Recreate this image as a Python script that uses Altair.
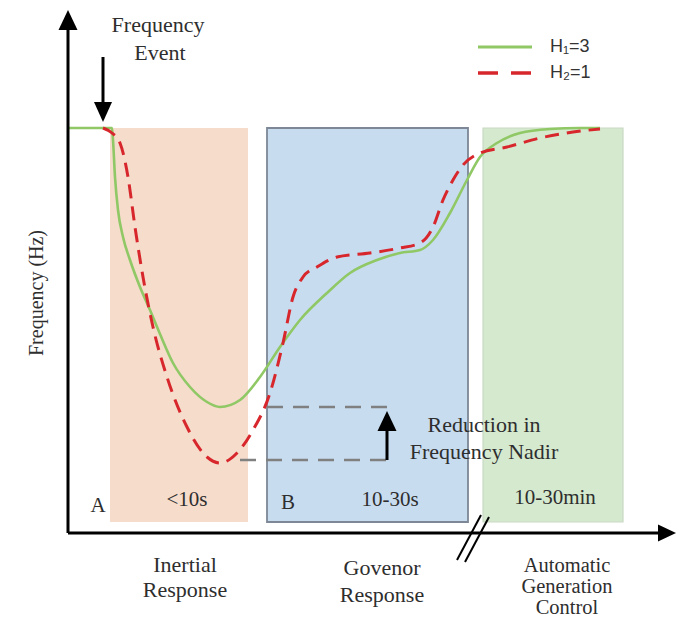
import altair as alt
import pandas as pd

# ---- data (time units t, frequency units f) ----
box_start = [42, 199, 415]
box_end = [180, 400, 555]
box_fill = ["#f5dccb", "#c8dcf0", "#d5e9cf"]
box_stroke = ["#f5dccb", "#7d8796", "#c9d9c4"]
box_sw = [0, 1.8, 1.2]
box_top = 405
box_bottom = 11

green_t = [0, 44, 45, 47, 50, 55, 62, 72, 82, 92, 105, 122, 139, 152, 172, 192, 212, 232, 259, 282, 309, 332, 352, 365, 382, 399, 412, 429, 452, 482, 512, 532]
green_f = [405, 405, 393, 356, 323, 296, 273, 246, 223, 199, 170, 146, 131, 126, 133, 156, 186, 213, 240, 260, 273, 280, 283, 293, 320, 353, 376, 390, 400, 404, 405, 405]

red_t = [35, 44, 52, 60, 67, 75, 85, 99, 119, 139, 152, 169, 185, 202, 215, 225, 235, 249, 269, 302, 332, 352, 365, 375, 385, 395, 412, 439, 472, 505, 532]
red_f = [405, 400, 390, 356, 306, 256, 206, 156, 106, 76, 70, 80, 103, 140, 190, 236, 256, 266, 276, 280, 285, 290, 306, 333, 353, 368, 380, 386, 395, 401, 404]

nadir_green = 126
nadir_red = 73

region_labels = ["A", "<10s", "B", "10-30s", "10-30min"]
region_t = [30, 119, 220, 322, 487]
region_f = [27, 33, 30, 33, 35]

bottom_labels = ["Inertial", "Response", "Govenor", "Response"]
bottom_t = [117, 117, 314, 314]
bottom_f = [-32, -57, -35, -62]

agc_labels = ["Automatic", "Generation", "Control"]
agc_t = [499, 499, 499]
agc_f = [-33, -54, -75]

legend_labels = ["H\u2081=3", "H\u2082=1"]

xs = alt.Scale(domain=[-60, 609], nice=False, zero=False)
ys = alt.Scale(domain=[-88, 525], nice=False, zero=False)


def X(field="t"):
    return alt.X(f"{field}:Q", scale=xs, axis=None)


def Y(field="f"):
    return alt.Y(f"{field}:Q", scale=ys, axis=None)


SERIF = "Liberation Serif"
TXT = "#2e2e2e"

# boxes
boxes = pd.DataFrame({"t0": box_start, "t1": box_end, "f0": [box_bottom] * 3, "f1": [box_top] * 3,
                      "fill": box_fill, "stroke": box_stroke, "sw": box_sw})
box_layer = alt.Chart(boxes).mark_rect().encode(
    x=X("t0"), x2="t1", y=Y("f0"), y2="f1",
    fill=alt.Fill("fill:N", scale=None),
    stroke=alt.Stroke("stroke:N", scale=None),
    strokeWidth=alt.StrokeWidth("sw:Q", scale=None),
)

# nadir dashed guide lines
guides = pd.DataFrame({"t0": [199, 172], "t1": [322, 325], "f": [nadir_green, nadir_red]})
guide_layer = alt.Chart(guides).mark_rule(color="#808080", strokeWidth=2.5, strokeDash=[16, 10]).encode(
    x=X("t0"), x2="t1", y=Y("f"))

# curves
green_df = pd.DataFrame({"t": green_t, "f": green_f})
red_df = pd.DataFrame({"t": red_t, "f": red_f})
green_layer = alt.Chart(green_df).mark_line(color="#8fc865", strokeWidth=2.6, interpolate="monotone").encode(
    x=X(), y=Y())
red_layer = alt.Chart(red_df).mark_line(color="#d8272c", strokeWidth=3, strokeDash=[14, 8],
                                        interpolate="monotone").encode(x=X(), y=Y())

# axes lines
axes = pd.DataFrame({"t0": [0, 0], "t1": [0, 595], "f0": [0, 0], "f1": [505, 0]})
axes_layer = alt.Chart(axes).mark_rule(color="black", strokeWidth=3).encode(
    x=X("t0"), x2="t1", y=Y("f0"), y2="f1")

# arrow shafts (frequency event, nadir reduction)
shafts = pd.DataFrame({"t0": [35, 319], "t1": [35, 319], "f0": [476, 73], "f1": [428, 106]})
shaft_layer = alt.Chart(shafts).mark_rule(color="black", strokeWidth=3).encode(
    x=X("t0"), x2="t1", y=Y("f0"), y2="f1")

UP = "M0,-1L0.95,1L-0.95,1Z"
DOWN = "M-0.9,-1L0.9,-1L0,1Z"
RIGHT = "M1,0L-1,-0.95L-1,0.95Z"
up_heads = pd.DataFrame({"t": [0, 319], "f": [513, 112]})
up_layer = alt.Chart(up_heads).mark_point(shape=UP, filled=True, color="black", opacity=1, size=400,
                                          strokeWidth=0).encode(x=X(), y=Y())
down_layer = alt.Chart(pd.DataFrame({"t": [35], "f": [421]})).mark_point(
    shape=DOWN, filled=True, color="black", opacity=1, size=400, strokeWidth=0).encode(x=X(), y=Y())
right_layer = alt.Chart(pd.DataFrame({"t": [599], "f": [0]})).mark_point(
    shape=RIGHT, filled=True, color="black", opacity=1, size=324, strokeWidth=0).encode(x=X(), y=Y())

# axis break marks
breaks = pd.DataFrame({"t0": [389, 397], "t1": [413, 421], "f0": [-27, -29], "f1": [18, 16]})
break_layer = alt.Chart(breaks).mark_rule(color="black", strokeWidth=2).encode(
    x=X("t0"), x2="t1", y=Y("f0"), y2="f1")

# legend
leg = pd.DataFrame({"t0": [410, 410], "t1": [464, 464], "f": [486, 460]})
leg_green = alt.Chart(leg.iloc[[0]]).mark_rule(color="#8fc865", strokeWidth=3).encode(
    x=X("t0"), x2="t1", y=Y("f"))
leg_red = alt.Chart(leg.iloc[[1]]).mark_rule(color="#d8272c", strokeWidth=3.5, strokeDash=[20, 13]).encode(
    x=X("t0"), x2="t1", y=Y("f"))
leg_text = alt.Chart(pd.DataFrame({"t": [482, 482], "f": [486, 460], "label": legend_labels})).mark_text(
    align="left", baseline="middle", font="Liberation Sans", fontSize=18, color="#333333").encode(
    x=X(), y=Y(), text="label:N")


def texts(labels, t, f, size=22, **kw):
    df = pd.DataFrame({"t": t, "f": f, "label": labels})
    return alt.Chart(df).mark_text(align="center", baseline="middle", font=SERIF, fontSize=size,
                                   color=TXT, **kw).encode(x=X(), y=Y(), text="label:N")


event_text = texts(["Frequency", "Event"], [90, 92], [508, 480])
region_text = texts(region_labels, region_t, region_f, size=21)
bottom_text = texts(bottom_labels, bottom_t, bottom_f)
agc_text = texts(agc_labels, agc_t, agc_f, size=20.5)
nadir_text = texts(["Reduction in", "Frequency Nadir"], [416, 416], [108, 81])
ytitle = texts(["Frequency (Hz)"], [-31], [240], size=20, angle=270)

chart = alt.layer(
    box_layer, guide_layer, green_layer, red_layer, axes_layer, shaft_layer, up_layer, down_layer,
    right_layer, break_layer, leg_green, leg_red, leg_text, event_text, region_text, bottom_text,
    agc_text, nadir_text, ytitle,
).properties(width=669, height=613, padding=0, autosize="none").configure_view(stroke=None)

chart.save("out.html", embed_options={"renderer": "svg", "actions": False})
